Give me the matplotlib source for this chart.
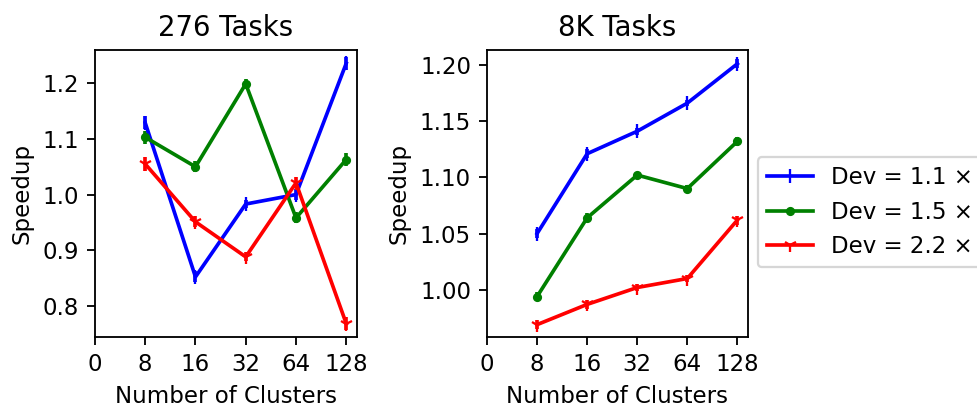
import matplotlib
matplotlib.use("Agg")
import matplotlib.pyplot as plt
import numpy as np

# cluster counts and their log2 positions on the x axis
clusters = [8, 16, 32, 64, 128]
tick_labels = ["0", "8", "16", "32", "64", "128"]

labels = ["Dev = 1.1 ×", "Dev = 1.5 ×", "Dev = 2.2 ×"]
colors = ["blue", "green", "red"]
markers = ["|", ".", "1"]

# 276 tasks
small_dev11 = [1.129, 0.852, 0.983, 1.000, 1.236]
small_dev15 = [1.103, 1.050, 1.199, 0.958, 1.063]
small_dev22 = [1.055, 0.951, 0.888, 1.021, 0.768]
small_err = [0.012, 0.010, 0.008, 0.010, 0.012]

# 8K tasks
large_dev11 = [1.050, 1.121, 1.141, 1.166, 1.201]
large_dev15 = [0.994, 1.064, 1.102, 1.090, 1.132]
large_dev22 = [0.969, 0.987, 1.002, 1.010, 1.062]
large_err = [0.004, 0.004, 0.003, 0.003, 0.004]

fig = plt.figure(figsize=(977 / 165, 406 / 165), dpi=165)
ax1 = fig.add_axes([0.0972, 0.170, 0.268, 0.707])
ax2 = fig.add_axes([0.4985, 0.170, 0.267, 0.707])

x = np.log2(clusters)
tick_pos = np.arange(2, 8)

handles = []
for ax, series, err, title in [
    (ax1, [small_dev11, small_dev15, small_dev22], small_err, "276 Tasks"),
    (ax2, [large_dev11, large_dev15, large_dev22], large_err, "8K Tasks"),
]:
    handles = []
    for ys, c, m, lab in zip(series, colors, markers, labels):
        cont = ax.errorbar(x, ys, yerr=err, color=c, marker=m, label=lab,
                           linewidth=1.6)
        handles.append(cont[0])
    ax.set_xticks(tick_pos)
    ax.set_xticklabels(tick_labels)
    ax.set_xlim(2, 7.21)
    ax.set_xlabel("Number of Clusters")
    ax.set_ylabel("Speedup")
    ax.set_title(title)

ax1.set_ylim(0.744, 1.26)
ax1.set_yticks([0.8, 0.9, 1.0, 1.1, 1.2])
ax2.set_ylim(0.958, 1.2133)
ax2.set_yticks([1.00, 1.05, 1.10, 1.15, 1.20])

fig.legend(handles, labels, loc="upper left", bbox_to_anchor=(0.764, 0.6416))

fig.savefig("out.png", dpi=165)
